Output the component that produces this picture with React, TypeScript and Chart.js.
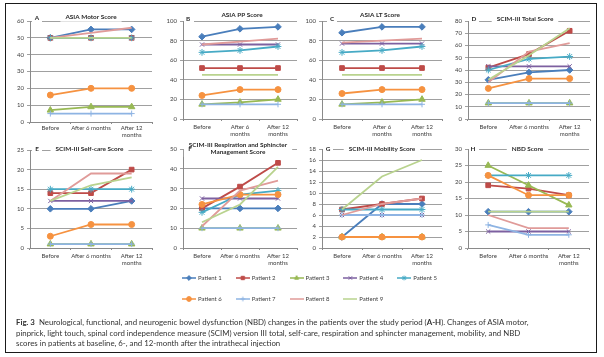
import React, { useEffect, useRef } from "react";
import { Chart, registerables } from "chart.js";
import { drawPoint } from "chart.js/helpers";

Chart.register(...registerables);

const FONT = "Lato, 'Liberation Sans', sans-serif";

// ---------- data ----------
const patients = ["Patient 1", "Patient 2", "Patient 3", "Patient 4", "Patient 5", "Patient 6", "Patient 7", "Patient 8", "Patient 9"];
const patientColors = ["#4A7EBB", "#BE4B48", "#98B954", "#7D60A0", "#46AAC5", "#F69240", "#8EB4E3", "#E09B99", "#B9D38E"];
const patientMarkers = ["rectRot", "rect", "triangle", "crossRot", "star", "circle", "cross", null, null];
const markerRadius = [3.3, 3.3, 3.7, 3, 3.4, 3, 3, 0, 0];

const labelsA = ["Before", "After 6 months", ["After 12", "months"]];
const labelsShort = ["Before", ["After 6", "months"], ["After 12", "months"]];

const asiaMotor = [
  [50, 55, 55], [50, 50, 50], [7, 9, 9], [50, 50, 50], [50, 50, 50],
  [16, 20, 20], [5, 5, 5], [50, 53, 56], [50, 50, 50],
];
const asiaPP = [
  [84, 92, 94], [52, 52, 52], [15, 17, 20], [76, 76, 76], [68, 70, 74],
  [24, 30, 30], [15, 15, 15], [76, 79, 82], [45, 45, 45],
];
const asiaLT = [
  [88, 94, 94], [52, 52, 52], [15, 17, 20], [77, 77, 77], [68, 70, 74],
  [26, 30, 30], [15, 15, 15], [78, 80, 82], [45, 45, 45],
];
const scimTotal = [
  [32, 38, 40], [42, 53, 72], [13, 13, 13], [43, 43, 43], [40, 49, 51],
  [25, 33, 33], [13, 13, 13], [30, 55, 62], [32, 52, 74],
];
const scimSelfCare = [
  [10, 10, 12], [14, 14, 20], [1, 1, 1], [12, 12, 12], [15, 15, 15],
  [3, 6, 6], [1, 1, 1], [12, 19, 19], [12, 16, 18],
];
const scimRespiration = [
  [20, 20, 20], [20, 31, 43], [10, 10, 10], [25, 25, 25], [18, 27, 29],
  [22, 27, 27], [10, 10, 10], [11, 29, 34], [13, 22, 41],
];
const scimMobility = [
  [2, 8, 8], [7, 8, 9], [2, 2, 2], [6, 6, 6], [7, 7, 7],
  [2, 2, 2], [6, 6, 6], [6, 8, 9], [7, 13, 16],
];
const nbdScore = [
  [11, 11, 11], [19, 18, 16], [25, 19, 13], [5, 5, 5], [22, 22, 22],
  [22, 16, 16], [7, 4, 4], [10, 6, 6], [11, 11, 11],
];

// ---------- layout ----------
const YW = 26, PT = 14, PR = 5, XH = 20;

type PanelDef = {
  letter: string; title: string[]; values: number[][]; labels: any[]; max: number; step: number;
  l: number; t: number; r: number; b: number;
  tdx: number; tdy: number; ldx: number; ldy: number; xPad: number;
};

const panels: PanelDef[] = [
  { letter: "A", title: ["ASIA Motor Score"], values: asiaMotor, labels: labelsA, max: 60, step: 10, l: 30, t: 21, r: 152, b: 122, tdx: 0, tdy: -4, ldx: 7, ldy: -3, xPad: 0 },
  { letter: "B", title: ["ASIA PP Score"], values: asiaPP, labels: labelsShort, max: 100, step: 10, l: 183, t: 21, r: 297, b: 119, tdx: 2, tdy: -6, ldx: 5, ldy: -2, xPad: 2 },
  { letter: "C", title: ["ASIA LT Score"], values: asiaLT, labels: labelsShort, max: 100, step: 10, l: 322, t: 21, r: 442, b: 119, tdx: -2, tdy: -6, ldx: 10, ldy: -2, xPad: 2 },
  { letter: "D", title: ["SCIM-III Total Score"], values: scimTotal, labels: labelsA, max: 80, step: 10, l: 468, t: 21, r: 590, b: 119, tdx: -4, tdy: -2, ldx: 6, ldy: -2, xPad: 2 },
  { letter: "E", title: ["SCIM-III Self-care Score"], values: scimSelfCare, labels: labelsA, max: 25, step: 5, l: 30, t: 150, r: 152, b: 248, tdx: -1.5, tdy: -1, ldx: 7, ldy: -1, xPad: 2 },
  { letter: "F", title: ["SCIM-III Respiration and Sphincter", "Management Score"], values: scimRespiration, labels: labelsA, max: 50, step: 5, l: 183, t: 149, r: 297, b: 248, tdx: -2, tdy: -0.5, ldx: 7, ldy: 0, xPad: 2 },
  { letter: "G", title: ["SCIM-III Mobility Score"], values: scimMobility, labels: labelsA, max: 18, step: 2, l: 322, t: 149, r: 442, b: 248, tdx: 0, tdy: 0, ldx: 6, ldy: 0, xPad: 2 },
  { letter: "H", title: ["NBD Score"], values: nbdScore, labels: labelsA, max: 30, step: 5, l: 468, t: 149, r: 589, b: 248, tdx: -1, tdy: 0, ldx: 5, ldy: 0, xPad: 2 },
];

function makeTitlePlugin(def: PanelDef) {
  const size = 6.4;
  const lh = 7.4;
  return {
    id: "panelTitle" + def.letter,
    beforeDatasetsDraw(chart: any) {
      const { ctx, chartArea: ca } = chart;
      ctx.save();
      ctx.font = `bold ${size}px ${FONT}`;
      const cx = (ca.left + ca.right) / 2 + def.tdx;
      const cy = ca.top + def.tdy;
      const w = Math.max(...def.title.map((s) => ctx.measureText(s).width)) + 10;
      const h = def.title.length * lh + 2;
      ctx.fillStyle = "#fff";
      ctx.fillRect(cx - w / 2, cy - h / 2, w, h);
      const lx = ca.left + def.ldx;
      const ly = ca.top + def.ldy;
      ctx.fillRect(Math.max(ca.left + 1, lx - 5), ly - 4.5, 10, 9);
      ctx.restore();
    },
    afterDraw(chart: any) {
      const { ctx, chartArea: ca } = chart;
      ctx.save();
      ctx.font = `bold ${size}px ${FONT}`;
      ctx.fillStyle = "#2b2b2b";
      ctx.textAlign = "center";
      ctx.textBaseline = "middle";
      const cx = (ca.left + ca.right) / 2 + def.tdx;
      const cy = ca.top + def.tdy;
      const n = def.title.length;
      def.title.forEach((s, i) => {
        ctx.fillText(s, cx, cy + (i - (n - 1) / 2) * lh);
      });
      ctx.fillText(def.letter, ca.left + def.ldx, ca.top + def.ldy);
      ctx.restore();
    },
  };
}

function Panel({ def }: { def: PanelDef }) {
  const ref = useRef<HTMLCanvasElement>(null);
  const left = def.l - YW;
  const top = def.t - PT;
  const width = def.r - def.l + YW + PR;
  const height = def.b - def.t + PT + XH;
  useEffect(() => {
    const tickFont = { family: FONT, size: 6 };
    const chart = new Chart(ref.current as HTMLCanvasElement, {
      type: "line",
      data: {
        labels: def.labels,
        datasets: patients.map((name, i) => ({
          label: name,
          data: def.values[i],
          borderColor: patientColors[i],
          backgroundColor: patientColors[i],
          pointBackgroundColor: patientColors[i],
          pointBorderColor: patientColors[i],
          borderWidth: 1.8,
          pointStyle: (patientMarkers[i] ?? false) as any,
          pointRadius: markerRadius[i],
          pointBorderWidth: 1,
          order: 9 - i,
          fill: false,
          tension: 0,
        })),
      },
      options: {
        responsive: false,
        animation: false,
        devicePixelRatio: 1,
        events: [],
        layout: { padding: { top: PT, right: PR, left: 0, bottom: 0 } },
        plugins: { legend: { display: false }, tooltip: { enabled: false }, title: { display: false } },
        scales: {
          x: {
            type: "category",
            offset: true,
            grid: { display: true, drawOnChartArea: false, drawTicks: true, tickLength: 2, offset: true, color: "#8a8a8a" },
            border: { display: true, color: "#8a8a8a", width: 1 },
            ticks: { autoSkip: false, maxRotation: 0, minRotation: 0, padding: def.xPad, color: "#404040", font: tickFont },
            afterFit: (s: any) => { s.height = XH; },
          },
          y: {
            min: 0,
            max: def.max,
            grid: { color: "#a0a0a0", tickLength: 3, drawTicks: true },
            border: { display: true, color: "#8a8a8a", width: 1 },
            ticks: { stepSize: def.step, padding: 3, color: "#404040", font: tickFont },
            afterFit: (s: any) => { s.width = YW; },
          },
        },
      } as any,
      plugins: [makeTitlePlugin(def)],
    });
    return () => chart.destroy();
  }, []);
  return (
    <canvas
      ref={ref}
      width={width}
      height={height}
      style={{ position: "absolute", left, top, width, height }}
    />
  );
}

function makeIcon(i: number) {
  const c = document.createElement("canvas");
  c.width = 14;
  c.height = 8;
  const ctx = c.getContext("2d") as CanvasRenderingContext2D;
  ctx.strokeStyle = patientColors[i];
  ctx.fillStyle = patientColors[i];
  ctx.lineWidth = 1.5;
  ctx.beginPath();
  ctx.moveTo(0, 4);
  ctx.lineTo(14, 4);
  ctx.stroke();
  const m = patientMarkers[i];
  if (m) {
    ctx.lineWidth = 1;
    drawPoint(ctx, { pointStyle: m as any, radius: 2.4, rotation: 0, borderWidth: 1 } as any, 7, 4);
  }
  return c;
}

function Legend() {
  const ref = useRef<HTMLCanvasElement>(null);
  const LP = 15;
  useEffect(() => {
    const icons = patients.map((_, i) => makeIcon(i));
    const chart = new Chart(ref.current as HTMLCanvasElement, {
      type: "line",
      data: {
        labels: [],
        datasets: patients.map((name, i) => ({ label: name, data: [], borderColor: patientColors[i], backgroundColor: patientColors[i] })),
      },
      options: {
        responsive: false,
        animation: false,
        devicePixelRatio: 1,
        events: [],
        layout: { padding: 0 },
        scales: { x: { display: false }, y: { display: false } },
        plugins: {
          tooltip: { enabled: false },
          legend: {
            display: true,
            position: "top",
            align: "start",
            maxHeight: 200,
            labels: {
              usePointStyle: true,
              pointStyleWidth: 12,
              boxHeight: 6,
              padding: LP,
              color: "#404040",
              font: { family: FONT, size: 6 },
              generateLabels: () =>
                patients.map((name, i) => ({
                  text: name,
                  pointStyle: icons[i],
                  fillStyle: patientColors[i],
                  strokeStyle: patientColors[i],
                  lineWidth: 0,
                  hidden: false,
                  datasetIndex: i,
                  fontColor: "#404040",
                })),
            },
          },
        },
      } as any,
    });
    return () => chart.destroy();
  }, []);
  return (
    <canvas
      ref={ref}
      width={300}
      height={110}
      style={{ position: "absolute", left: 183 - LP, top: 260, width: 300, height: 110 }}
    />
  );
}

export default function App() {
  return (
    <div style={{ position: "absolute", left: 0, top: 0, width: 604, height: 357, overflow: "hidden", background: "#fff" }}>
      <div style={{ position: "absolute", left: 5, top: 3, width: 592, height: 350, border: "1px solid #1a1a1a", boxSizing: "border-box" }} />
      {panels.map((p) => (
        <Panel key={p.letter} def={p} />
      ))}
      <Legend />
      <div
        style={{
          position: "absolute",
          left: 16,
          top: 317,
          fontFamily: FONT,
          fontSize: 7.85,
          lineHeight: "10.5px",
          color: "#333",
          whiteSpace: "nowrap",
        }}
      >
        <div>
          <b>Fig. 3</b>&nbsp; Neurological, functional, and neurogenic bowel dysfunction (NBD) changes in the patients over the study period (<b>A-H</b>). Changes of ASIA motor,
        </div>
        <div>pinprick, light touch, spinal cord independence measure (SCIM) version III total, self-care, respiration and sphincter management, mobility, and NBD</div>
        <div>scores in patients at baseline, 6-, and 12-month after the intrathecal injection</div>
      </div>
    </div>
  );
}
